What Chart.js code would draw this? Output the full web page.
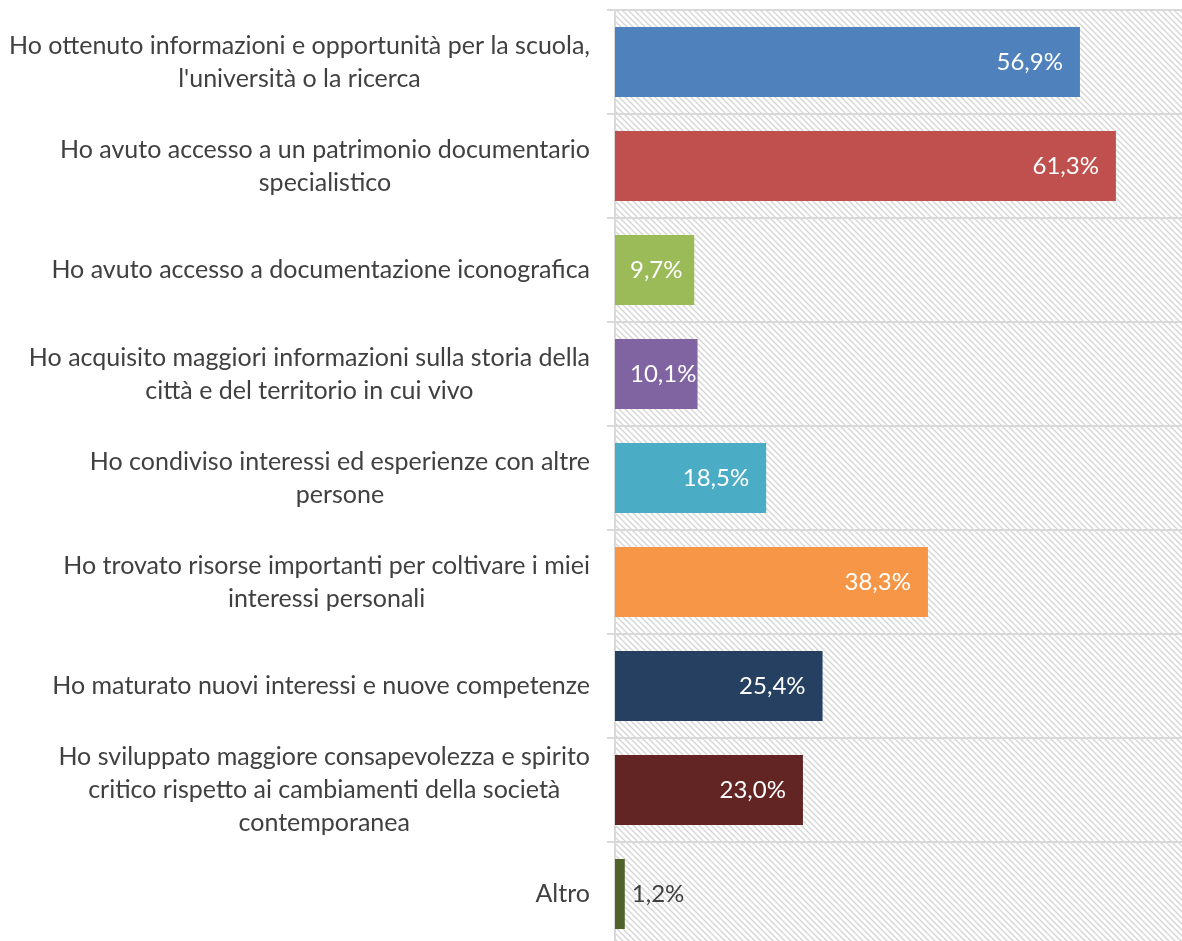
<!DOCTYPE html>
<html>
<head>
<meta charset="utf-8">
<script src="https://cdn.jsdelivr.net/npm/chart.js@4/dist/chart.umd.min.js"></script>
<style>
html, body { margin: 0; padding: 0; background: #fff; overflow: hidden; }
#wrap { position: absolute; left: 0; top: 0; width: 1187px; height: 946px; }
</style>
</head>
<body>
<div id="wrap"><canvas id="myChart" width="1187" height="946"></canvas></div>
<script>
// categorie (ogni riga = una riga dell'etichetta)
const categories = [
    ["Ho ottenuto informazioni e opportunità per la scuola,", "l'università o la ricerca"],
    ["Ho avuto accesso a un patrimonio documentario", "specialistico"],
    ["Ho avuto accesso a documentazione iconografica"],
    ["Ho acquisito maggiori informazioni sulla storia della", "città e del territorio in cui vivo"],
    ["Ho condiviso interessi ed esperienze con altre", "persone"],
    ["Ho trovato risorse importanti per coltivare i miei", "interessi personali"],
    ["Ho maturato nuovi interessi e nuove competenze"],
    ["Ho sviluppato maggiore consapevolezza e spirito", "critico rispetto ai cambiamenti della società", "contemporanea"],
    ["Altro"]
];
const values = [56.9, 61.3, 9.7, 10.1, 18.5, 38.3, 25.4, 23.0, 1.2];
const barColors = [
    "#4f81bd",
    "#c0504d",
    "#9bbb59",
    "#8064a2",
    "#4bacc6",
    "#f79646",
    "#254061",
    "#632523",
    "#4f6228"
];

const fontName = "Lato";
const catFontSize = 25;
const valFontSize = 24;
const textColor = "#404040";
const labelRight = 590;
const lineH = 33;

// sfondo tratteggiato dell'area del grafico
function makeHatch() {
    const c = document.createElement("canvas");
    c.width = 6;
    c.height = 6;
    const g = c.getContext("2d");
    g.fillStyle = "#fff";
    g.fillRect(0, 0, 6, 6);
    g.strokeStyle = "#d4d4d4";
    g.lineWidth = 1.3;
    g.beginPath();
    g.moveTo(-1, -1); g.lineTo(7, 7);
    g.moveTo(-4, 2); g.lineTo(2, 8);
    g.moveTo(2, -4); g.lineTo(8, 2);
    g.stroke();
    return c;
}

const hatchPlugin = {
    id: "hatch",
    beforeDraw(chart) {
        const a = chart.chartArea;
        const ctx = chart.ctx;
        ctx.save();
        ctx.fillStyle = ctx.createPattern(makeHatch(), "repeat");
        ctx.fillRect(a.left, a.top, a.right - a.left, a.bottom - a.top);
        ctx.restore();
    }
};

// etichette categorie: blocco allineato a destra, righe centrate
const catLabels = {
    id: "catLabels",
    afterDraw(chart) {
        const ctx = chart.ctx;
        const yScale = chart.scales.y;
        ctx.save();
        ctx.font = catFontSize + "px " + fontName;
        ctx.fillStyle = textColor;
        ctx.textAlign = "center";
        ctx.textBaseline = "middle";
        categories.forEach(function (lines, i) {
            let w = 0;
            lines.forEach(function (l) { w = Math.max(w, ctx.measureText(l).width); });
            const cx = labelRight - w / 2;
            const cy = yScale.getPixelForValue(i);
            const y0 = cy - (lines.length - 1) * lineH / 2;
            lines.forEach(function (l, k) {
                ctx.fillText(l, cx, y0 + k * lineH);
            });
        });
        ctx.restore();
    }
};

// etichette dei valori
const valueLabels = {
    id: "valueLabels",
    afterDatasetsDraw(chart) {
        const ctx = chart.ctx;
        const meta = chart.getDatasetMeta(0);
        ctx.save();
        ctx.font = valFontSize + "px " + fontName;
        ctx.textBaseline = "middle";
        ctx.textAlign = "left";
        meta.data.forEach(function (bar, i) {
            const txt = values[i].toFixed(1).replace(".", ",") + "%";
            const w = ctx.measureText(txt).width;
            const start = bar.base;
            const end = bar.x;
            let x;
            if (end - start >= w + 12) {
                ctx.fillStyle = "#ffffff";
                x = Math.max(end - 17 - w, start + 15);
            } else {
                ctx.fillStyle = textColor;
                x = end + 7;
            }
            ctx.fillText(txt, x, bar.y);
        });
        ctx.restore();
    }
};

const ctx = document.getElementById("myChart").getContext("2d");
window.myChart = new Chart(ctx, {
    type: "bar",
    data: {
        labels: categories,
        datasets: [{
            data: values,
            backgroundColor: barColors,
            borderWidth: 0,
            categoryPercentage: 1,
            barPercentage: 0.673
        }]
    },
    options: {
        indexAxis: "y",
        responsive: false,
        animation: false,
        devicePixelRatio: 1,
        layout: { padding: { top: 10, right: 0, bottom: 0, left: 0 } },
        plugins: {
            legend: { display: false },
            tooltip: { enabled: false }
        },
        scales: {
            x: {
                display: false,
                min: 0,
                max: 70
            },
            y: {
                afterFit: function (scale) { scale.width = 615; },
                ticks: { display: false },
                grid: {
                    offset: true,
                    color: "#d9d9d9",
                    lineWidth: 2,
                    tickLength: 8,
                    drawTicks: true
                },
                border: { display: true, color: "#d9d9d9", width: 2 }
            }
        }
    },
    plugins: [hatchPlugin, catLabels, valueLabels]
});
</script>
</body>
</html>
